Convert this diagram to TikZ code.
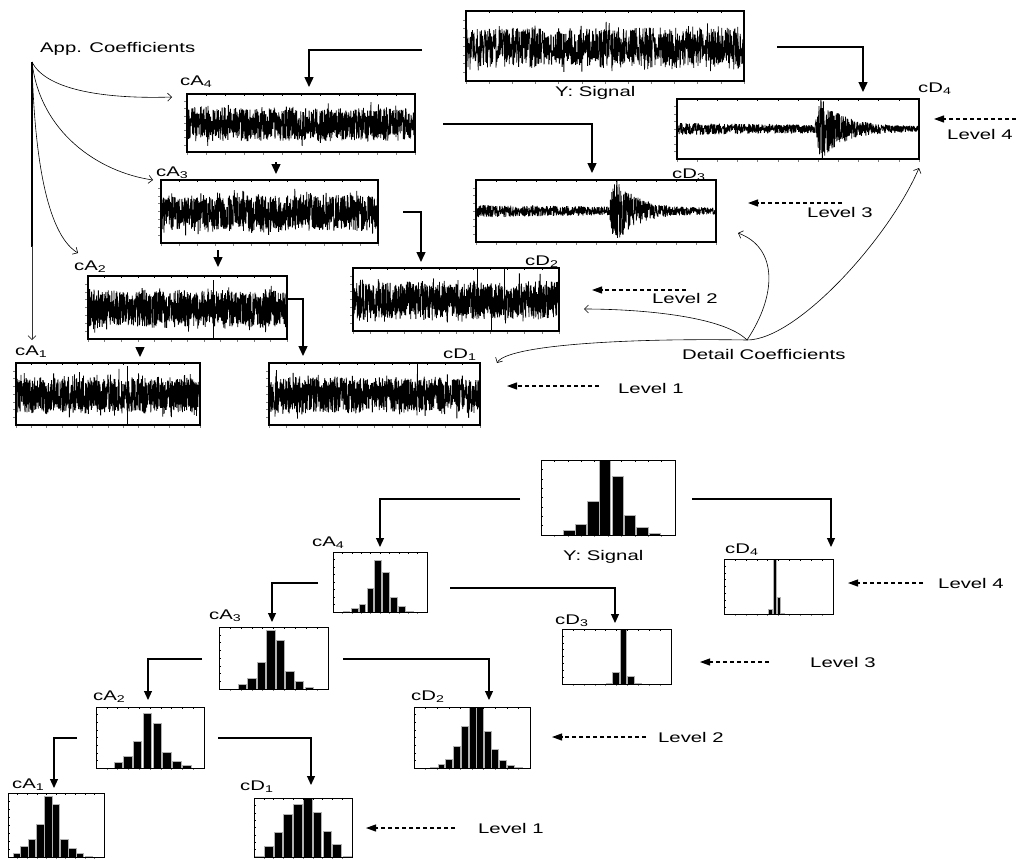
\documentclass[tikz,border=0pt]{standalone}
\usepackage{fontspec}
\setmainfont{Liberation Sans}[FakeStretch=1.45]
\usetikzlibrary{arrows.meta,calc}
\tikzset{
  sigbox/.style={draw, line width=1.1pt, inner sep=0, outer sep=0, anchor=north west},
  hbox/.style={draw, line width=1pt, inner sep=0, outer sep=0, anchor=north west},
  sig/.style={line width=0.8pt, line join=bevel},
  lab/.style={inner sep=0, anchor=west},
  bigarr/.style={line width=1.4pt, -{Triangle[length=10pt,width=9pt]}},
  smarr/.style={line width=1.1pt, -{Triangle[length=9pt,width=8pt]}},
  lvl/.style={line width=1.1pt, dash pattern=on 4.5pt off 2.5pt, -{Triangle[length=10pt,width=7pt]}},
  curv/.style={line width=0.6pt, -{Straight Barb[length=4pt,width=8pt]}},
  tick/.style={line width=0.4pt},
  gtick/.style={line width=0.4pt, gray}
}
% noisy signal: x0 y0 x1 y1 seed
\newcommand\noiseplot[5]{%
  \begin{scope}
    \clip (#1,#2) rectangle (#3,#4);
    \pgfmathsetseed{#5}%
    \draw[sig] plot[domain=0:1, samples=1100]
      ({#1+\x*(#3-#1)}, {#2+(#4-#2)*(0.52+0.28*rand+0.2*rand*rand*rand)});
  \end{scope}}
% burst signal: x0 y0 x1 y1 seed burstpos
\newcommand\burstplot[6]{%
  \begin{scope}
    \clip (#1,#2) rectangle (#3,#4);
    \pgfmathsetseed{#5}%
    \draw[sig] plot[domain=0:1, samples=1100]
      ({#1+\x*(#3-#1)}, {#2+(#4-#2)*(0.5+(0.1-0.05*\x+ifthenelse(\x<#6, 0.45*max(0,1-(#6-\x)*50), 0.5*exp(-(\x-#6)*12)))*rand)});
  \end{scope}}
% ticks around a signal box
\newcommand\sigticks[4]{%
  \foreach \i in {0,...,12} {\draw[gtick] ({#1+\i*(#3-#1)/12}, #4) -- ++(0,3);}
  \foreach \i in {1,...,11} {\draw[tick] ({#1+\i*(#3-#1)/12}, #2) -- ++(0,2);}
  \foreach \i in {1,...,7} {\draw[gtick] (#1, {#2+\i*(#4-#2)/8}) -- ++(-3,0);}}
\newcommand\sigbox[5]{\node[sigbox, minimum width={(#4-#2)*1pt}, minimum height={(#5-#3)*1pt}] (#1) at (#2,#3) {};}
% histogram: name x0 y0 x1 y1 barwidth list
\newcommand\histo[7]{%
  \foreach \bx/\bh in {#7} {\filldraw[fill=black, draw=gray!60, line width=0.5pt]
     ({#2+\bx*(#4-#2)}, #5) rectangle ({#2+(\bx+#6)*(#4-#2)}, {#5-\bh*(#5-#3)});}
  \foreach \i in {1,...,7} {\draw[tick] (#2, {#3+\i*(#5-#3)/8}) -- ++(2,0);}
  \foreach \i in {1,...,9} {\draw[tick] ({#2+\i*(#4-#2)/10}, #3) -- ++(0,2);
     \draw[gtick] ({#2+\i*(#4-#2)/10}, #5) -- ++(0,2);}
  \node[hbox, minimum width={(#4-#2)*1pt}, minimum height={(#5-#3)*1pt}] (#1) at (#2,#3) {};}
\begin{document}
\begin{tikzpicture}[x=1pt,y=-1pt, font=\fontsize{14}{16}\selectfont]
\useasboundingbox (0,0) rectangle (1016,859);

%%%%%%%%%%%%%%%% upper part: signals
\noiseplot{466}{11}{744}{81}{11}
\noiseplot{187}{94}{415}{152}{23}
\noiseplot{161}{180}{378}{243}{37}
\noiseplot{88}{276}{287}{339}{41}
\noiseplot{16}{363}{200}{425}{53}
\noiseplot{353}{268}{559}{331}{67}
\noiseplot{269}{363}{480}{425}{79}
\burstplot{677}{99}{919}{159}{83}{0.59}
\burstplot{476}{180}{716}{242}{97}{0.575}
% a few spikes
\draw[sig] (213,280) -- (213,339);
\draw[sig] (127,366) -- (127,425);
\draw[sig] (417,363) -- (417,395);
\draw[sig] (477,268) -- (477,300);
\draw[sig] (504,268) -- (504,295);
\draw[sig] (491,300) -- (491,331);

\sigticks{466}{11}{744}{81}
\sigticks{187}{94}{415}{152}
\sigticks{161}{180}{378}{243}
\sigticks{88}{276}{287}{339}
\sigticks{16}{363}{200}{425}
\sigticks{353}{268}{559}{331}
\sigticks{269}{363}{480}{425}
\sigticks{677}{99}{919}{159}
\sigticks{476}{180}{716}{242}

\sigbox{sY}{466}{11}{744}{81}
\sigbox{cA4}{187}{94}{415}{152}
\sigbox{cA3}{161}{180}{378}{243}
\sigbox{cA2}{88}{276}{287}{339}
\sigbox{cA1}{16}{363}{200}{425}
\sigbox{cD4}{677}{99}{919}{159}
\sigbox{cD3}{476}{180}{716}{242}
\sigbox{cD2}{353}{268}{559}{331}
\sigbox{cD1}{269}{363}{480}{425}

% labels upper
\node[lab] (tApp) at (40,49) {App. Coefficients};
\node[lab] (tDet) at (682,354) {Detail Coefficients};
\node[lab] (tYs) at (555,93) {Y: Signal};
\node[lab] (lA4) at (180,82) {cA\textsubscript{4}};
\node[lab] (lA3) at (156,173) {cA\textsubscript{3}};
\node[lab] (lA2) at (74,267) {cA\textsubscript{2}};
\node[lab] (lA1) at (15,352) {cA\textsubscript{1}};
\node[lab] (lD4) at (918,89) {cD\textsubscript{4}};
\node[lab] (lD3) at (672,175) {cD\textsubscript{3}};
\node[lab] (lD2) at (525,262) {cD\textsubscript{2}};
\node[lab] (lD1) at (443,355) {cD\textsubscript{1}};
\node[lab] (lv4u) at (947,134) {Level 4};
\node[lab] (lv3u) at (807,212) {Level 3};
\node[lab] (lv2u) at (652,298) {Level 2};
\node[lab] (lv1u) at (618,388) {Level 1};

% decomposition arrows upper
\draw[bigarr] ($(sY.west)+(-44,4)$) -| ($(cA4.north)+(8,-7)$);
\draw[bigarr] ($(sY.east)+(33,1)$) -| ($(cD4.north)+(65,-7)$);
\draw[bigarr] ($(cA4.south)+(-25,10)$) -- ($(cA3.north)+(6.5,-6)$);
\draw[bigarr] ($(cA4.east)+(28,1)$) -| ($(cD3.north)+(-4,-7)$);
\draw[bigarr] ($(cA3.south)+(-51.5,7)$) -- ($(cA2.north)+(30.5,-9)$);
\draw[bigarr] ($(cA3.east)+(25,0.5)$) -| ($(cD2.north)+(-35,-6)$);
\draw[bigarr] ($(cA2.south)+(-47.5,12)$) -- ($(cA1.north)+(32,-6)$);
\draw[bigarr] ($(cA2.east)+(0,-8.5)$) -| ($(cD1.north)+(-71.5,-7)$);

% approximation coefficient curves
\coordinate (appO) at (32,62);
\draw[line width=1.6pt] (appO) -- (32,247);
\draw[curv, gray!40!black] (32,246) -- ($(cA1.north)+(-76,-23)$);
\draw[curv] (appO) .. controls +(15,30) and +(-60,2) .. ($(cA4.west)+(-15,-26)$);
\draw[curv] (appO) .. controls +(8,70) and +(-55,-8) .. ($(cA3.west)+(-8,-31.5)$);
\draw[curv] (appO) .. controls +(3,120) and +(-25,-15) .. ($(cA2.west)+(-10,-54.5)$);

% detail coefficient curves
\coordinate (detO) at (747,340);
\draw[curv] (detO) .. controls +(-120,-2) and +(10,-18) .. ($(cD1.east)+(17,-31)$);
\draw[curv] (detO) .. controls +(-25,-25) and +(50,0) .. ($(cD2.east)+(25,9.5)$);
\draw[curv] (detO) .. controls +(30,-45) and +(40,15) .. ($(cD3.east)+(22,22)$);
\draw[curv] (detO) .. controls +(50,0) and +(-30,70) .. ($(cD4.south east)+(0,9)$);

% level arrows upper
\coordinate (l4u) at (1016,119);
\coordinate (l3u) at (842,203);
\coordinate (l2u) at (686,290);
\coordinate (l1u) at (599,386);
\draw[lvl] (l4u) -- ($(cD4.east)+(15,-10)$);
\draw[lvl] (l3u) -- ($(cD3.east)+(32,-8)$);
\draw[lvl] (l2u) -- ($(cD2.east)+(33,-9.5)$);
\draw[lvl] (l1u) -- ($(cD1.east)+(27,-8)$);

%%%%%%%%%%%%%%%% lower part: histograms
\histo{hY}{541}{460}{675}{535}{0.085}{0.167/0.058, 0.254/0.147, 0.346/0.444, 0.435/1.0, 0.532/0.778, 0.622/0.258, 0.714/0.102, 0.806/0.02}
\histo{hA4}{333}{552}{427}{612}{0.07}{0.106/0.012, 0.195/0.056, 0.277/0.13, 0.362/0.39, 0.443/0.87, 0.525/0.67, 0.610/0.24, 0.695/0.095, 0.78/0.012}
\histo{hA3}{219}{627}{328}{689}{0.076}{0.174/0.076, 0.263/0.173, 0.349/0.432, 0.437/0.95, 0.526/0.79, 0.612/0.286, 0.700/0.124, 0.789/0.03}
\histo{hA2}{96}{707}{204}{768}{0.078}{0.166/0.097, 0.255/0.2, 0.342/0.438, 0.434/0.9, 0.526/0.74, 0.618/0.26, 0.708/0.108, 0.800/0.043}
\histo{hA1}{8}{793}{104}{857}{0.074}{0.052/0.052, 0.132/0.167, 0.215/0.27, 0.299/0.515, 0.382/0.95, 0.465/0.83, 0.549/0.28, 0.632/0.14, 0.715/0.052, 0.802/0.015}
\histo{hD1}{254}{798}{352}{857}{0.087}{0.01/0.015, 0.105/0.19, 0.203/0.42, 0.302/0.72, 0.403/0.89, 0.505/0.99, 0.603/0.76, 0.702/0.43, 0.803/0.21, 0.91/0.01}
\histo{hD2}{414}{707}{530}{768}{0.06}{0.14/0.01, 0.205/0.054, 0.271/0.15, 0.339/0.35, 0.408/0.68, 0.473/0.99, 0.538/0.99, 0.603/0.6, 0.668/0.31, 0.736/0.135, 0.804/0.043, 0.87/0.01}
\histo{hD3}{562}{629}{671}{684}{0.06}{0.407/0.02, 0.465/0.22, 0.532/1.0, 0.602/0.15, 0.664/0.02}
\histo{hD4}{724}{559}{833}{614}{0.028}{0.41/0.085, 0.45/0.99, 0.485/0.3, 0.524/0.02}

% labels lower
\node[lab] (tYh) at (563,557) {Y: Signal};
\node[lab] (hlA4) at (312,543) {cA\textsubscript{4}};
\node[lab] (hlA3) at (209,616) {cA\textsubscript{3}};
\node[lab] (hlA2) at (93,697) {cA\textsubscript{2}};
\node[lab] (hlA1) at (12,785) {cA\textsubscript{1}};
\node[lab] (hlD1) at (240,787) {cD\textsubscript{1}};
\node[lab] (hlD2) at (411,697) {cD\textsubscript{2}};
\node[lab] (hlD3) at (555,621) {cD\textsubscript{3}};
\node[lab] (hlD4) at (725,550) {cD\textsubscript{4}};
\node[lab] (lv4l) at (938,583) {Level 4};
\node[lab] (lv3l) at (810,662) {Level 3};
\node[lab] (lv2l) at (658,737) {Level 2};
\node[lab] (lv1l) at (478,828) {Level 1};

% decomposition arrows lower
\draw[smarr] ($(hY.west)+(-21,1.5)$) -| ($(hA4.north)+(0,-5)$);
\draw[smarr] ($(hY.east)+(17,1.5)$) -| ($(hD4.north)+(52.5,-12)$);
\draw[smarr] ($(hA4.west)+(-15,1)$) -| ($(hA3.north)+(-1.5,-5)$);
\draw[smarr] ($(hA4.east)+(23,6)$) -| ($(hD3.north)+(-1.5,-6)$);
\draw[smarr] ($(hA3.west)+(-17,1)$) -| ($(hA2.north)+(-2,-7)$);
\draw[smarr] ($(hA3.east)+(15,1)$) -| ($(hD2.north)+(17,-7)$);
\draw[smarr] ($(hA2.west)+(-19,0.5)$) -| ($(hA1.north)+(-2,-5)$);
\draw[smarr] ($(hA2.east)+(14,0.5)$) -| ($(hD1.north)+(8,-13)$);

% level arrows lower
\coordinate (l4l) at (923,583);
\coordinate (l3l) at (769,662);
\coordinate (l2l) at (646,737);
\coordinate (l1l) at (455,828);
\draw[lvl] (l4l) -- ($(hD4.east)+(15,-3.5)$);
\draw[lvl] (l3l) -- ($(hD3.east)+(29,5.5)$);
\draw[lvl] (l2l) -- ($(hD2.east)+(22,-0.5)$);
\draw[lvl] (l1l) -- ($(hD1.east)+(14,0.5)$);
\end{tikzpicture}
\end{document}
